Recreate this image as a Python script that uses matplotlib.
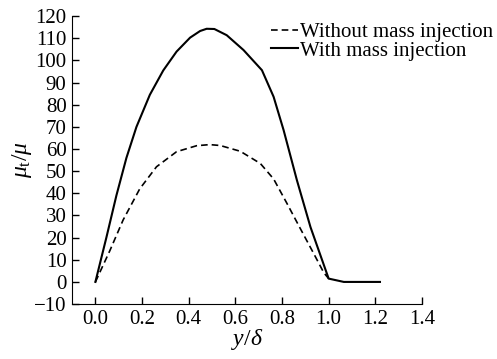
import matplotlib.pyplot as plt

plt.rcParams['font.family'] = 'Liberation Serif'
plt.rcParams['mathtext.fontset'] = 'custom'
plt.rcParams['mathtext.rm'] = 'Liberation Serif'
plt.rcParams['mathtext.it'] = 'Liberation Serif:italic'

# eddy viscosity ratio across the boundary layer
y_with = [0, 0.047, 0.09, 0.133, 0.176, 0.2335, 0.291, 0.348, 0.406, 0.449,
          0.477, 0.51, 0.563, 0.635, 0.714, 0.764, 0.807, 0.864, 0.922,
          1.0, 1.065, 1.22]
mu_with = [0, 20, 39, 56, 70, 84.5, 95.5, 104, 110.3, 113.3,
           114.3, 114.2, 111.4, 104.7, 95.6, 83.6, 68.5, 45.9, 24.8,
           1.5, 0, 0]

y_without = [0, 0.0615, 0.119, 0.19, 0.262, 0.348, 0.434, 0.49, 0.535,
             0.621, 0.707, 0.764, 0.821, 0.879, 0.936, 0.979, 1.0]
mu_without = [0, 14, 28, 42, 52, 58.8, 61.5, 62, 61.6,
              59, 53.5, 46.5, 35.5, 24, 12.8, 4.2, 1.5]

xticks = [0, 0.2, 0.4, 0.6, 0.8, 1.0, 1.2, 1.4]
yticks = list(range(-10, 121, 10))

fig = plt.figure(figsize=(4.97, 3.59), dpi=100)
ax = fig.add_axes([0.145, 0.153, 0.704, 0.802])

ax.plot(y_without, mu_without, color='black', lw=1.2, dashes=(4.0, 2.4),
        label='Without mass injection')
ax.plot(y_with, mu_with, color='black', lw=1.5, label='With mass injection')

ax.set_xlim(-0.1, 1.4)
ax.set_ylim(-10, 120)
ax.set_xticks(xticks)
ax.set_yticks(yticks)
ax.spines['top'].set_visible(False)
ax.spines['right'].set_visible(False)
ax.tick_params(direction='in', length=5, width=1, labelsize=15, pad=4)

ax.set_xlabel(r'$y/\delta$', fontsize=17, labelpad=-1)
ax.set_ylabel(r'$\mu_{\mathrm{t}}/\mu$', fontsize=17, labelpad=0)

ax.legend(loc='upper left', bbox_to_anchor=(0.55, 1.0), frameon=False,
          fontsize=15, handlelength=1.3, handletextpad=0.1,
          labelspacing=-0.05, borderpad=0, borderaxespad=0.3)

fig.savefig('out.png', dpi=100)
